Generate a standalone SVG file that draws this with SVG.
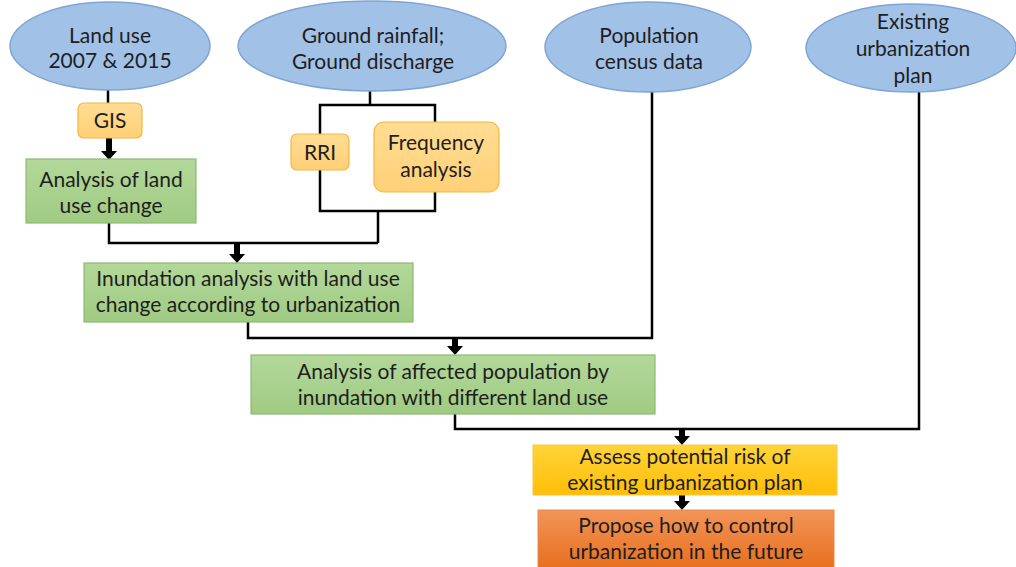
<svg xmlns="http://www.w3.org/2000/svg" width="1016" height="567" viewBox="0 0 1016 567">
<defs>
<linearGradient id="gGreen" x1="0" y1="0" x2="0" y2="1"><stop offset="0" stop-color="#B3D89A"/><stop offset="1" stop-color="#A0CB83"/></linearGradient>
<linearGradient id="gOrange" x1="0" y1="0" x2="0" y2="1"><stop offset="0" stop-color="#FFDD94"/><stop offset="1" stop-color="#FFD077"/></linearGradient>
<linearGradient id="gYellow" x1="0" y1="0" x2="0" y2="1"><stop offset="0" stop-color="#FFD43A"/><stop offset="1" stop-color="#FFBE08"/></linearGradient>
<linearGradient id="gRed" x1="0" y1="0" x2="0" y2="1"><stop offset="0" stop-color="#F29458"/><stop offset="1" stop-color="#E8701F"/></linearGradient>
</defs>
<style>
.ell{fill:#A2C1E7;stroke:#7EA5D5;stroke-width:1.5}
.grn{fill:url(#gGreen);stroke:#8DBA72;stroke-width:1.2}
.org{fill:url(#gOrange);stroke:#F2B83E;stroke-width:1.2}
.yel{fill:url(#gYellow);stroke:#F5C842;stroke-width:1}
.red{fill:url(#gRed);stroke:#E98A4C;stroke-width:1}
.ln{fill:none;stroke:#000;stroke-width:2.5}
.arr{fill:#000}
text{font-family:Lato,"Open Sans","Liberation Sans",sans-serif;font-size:21px;fill:#1E1E1E;text-anchor:middle}
</style>
<rect width="1016" height="567" fill="#fff"/>
<g id="connectors">
<path class="ln" d="M108,90 V104"/>
<path class="ln" d="M370,91 V105"/>
<path class="ln" d="M320,105 H435 V211 H320 Z"/>
<path class="ln" d="M378,211 V243 M109,223 V243 H378"/>
<path class="ln" d="M248,322 V338 H652 V92"/>
<path class="ln" d="M455,414 V429 H919 V92"/>
<path class="arr" d="M106,138 h6 v13 h5 l-8,9 l-8,-9 h5 z"/>
<path class="arr" d="M234,243 h6 v11 h5 l-8,9 l-8,-9 h5 z"/>
<path class="arr" d="M452,338 h6 v8 h5 l-8,9 l-8,-9 h5 z"/>
<path class="arr" d="M679,429 h6 v7 h5 l-8,9 l-8,-9 h5 z"/>
<path class="arr" d="M679,495 h6 v6 h5 l-8,9 l-8,-9 h5 z"/>
</g>
<g id="n-landuse"><ellipse class="ell" cx="110" cy="46" rx="100" ry="44"/><text x="110" y="43">Land use</text><text x="110" y="68">2007 &amp; 2015</text></g>
<g id="n-rainfall"><ellipse class="ell" cx="372" cy="46" rx="134" ry="45"/><text x="373" y="43">Ground rainfall;</text><text x="373" y="69">Ground discharge</text></g>
<g id="n-population"><ellipse class="ell" cx="648" cy="47" rx="103" ry="45"/><text x="649" y="43">Population</text><text x="649" y="69">census data</text></g>
<g id="n-plan"><ellipse class="ell" cx="911" cy="48" rx="105" ry="44"/><text x="913" y="29">Existing</text><text x="913" y="56">urbanization</text><text x="913" y="83">plan</text></g>
<g id="n-gis"><rect class="org" x="78" y="103" width="64" height="35" rx="6"/><text x="110" y="128">GIS</text></g>
<g id="n-rri"><rect class="org" x="291" y="134" width="58" height="36" rx="6"/><text x="320" y="160">RRI</text></g>
<g id="n-freq"><rect class="org" x="374" y="122" width="125" height="70" rx="10"/><text x="436" y="150">Frequency</text><text x="436" y="177">analysis</text></g>
<g id="n-landchange"><rect class="grn" x="26" y="159" width="170" height="64"/><text x="111" y="187">Analysis of land</text><text x="111" y="213">use change</text></g>
<g id="n-inundation"><rect class="grn" x="84" y="263" width="329" height="59"/><text x="248" y="286">Inundation analysis with land use</text><text x="248" y="312">change according to urbanization</text></g>
<g id="n-affected"><rect class="grn" x="251" y="355" width="404" height="59"/><text x="453" y="379">Analysis of affected population by</text><text x="453" y="405">inundation with different land use</text></g>
<g id="n-assess"><rect class="yel" x="533" y="445" width="304" height="50"/><text x="685" y="464">Assess potential risk of</text><text x="685" y="490">existing urbanization plan</text></g>
<g id="n-propose"><rect class="red" x="538" y="510" width="296" height="58"/><text x="686" y="533">Propose how to control</text><text x="686" y="559">urbanization in the future</text></g>
</svg>
